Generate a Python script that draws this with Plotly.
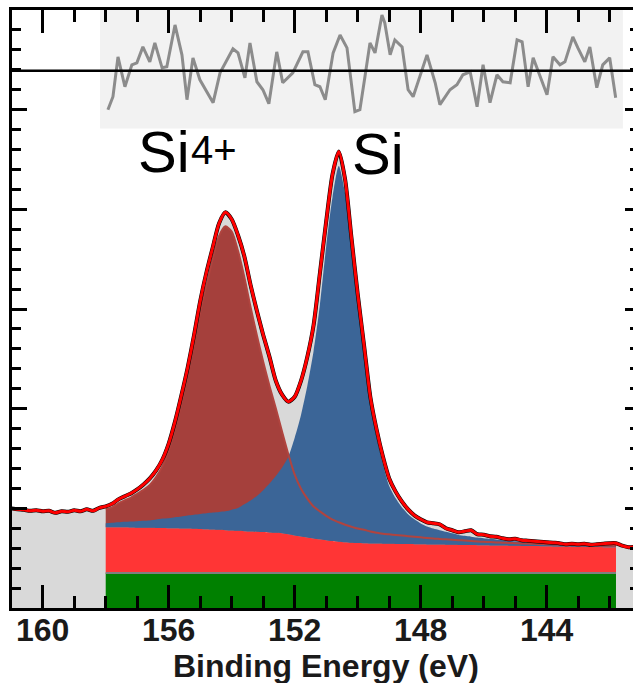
import numpy as np
import plotly.graph_objects as go

# ---------------- data ----------------
# full measured spectrum, 161.0 -> 141.2 eV, step 0.2 eV
energy_full = np.round(np.linspace(161.0, 141.2, 100), 1)
intensity = [
    1.00, 0.99, 0.985, 0.975, 0.98, 0.97, 0.975, 0.955, 0.97, 0.965, 0.98, 0.97, 0.99, 0.975, 1.005,
    1.02, 1.045, 1.09, 1.12, 1.15, 1.19, 1.24, 1.30, 1.38, 1.49,
    1.65, 1.87, 2.13, 2.41, 2.73, 3.08, 3.37, 3.62, 3.86, 3.97,
    3.90, 3.74, 3.53, 3.24, 2.98, 2.74, 2.52, 2.28, 2.14, 2.07,
    2.12, 2.28, 2.52, 2.84, 3.36, 3.88, 4.35, 4.58, 4.30, 3.72,
    3.15, 2.64, 2.12, 1.79, 1.52, 1.30, 1.17, 1.07, 0.99, 0.93,
    0.89, 0.86, 0.85, 0.84, 0.80, 0.78, 0.76, 0.77, 0.78, 0.74,
    0.735, 0.72, 0.715, 0.70, 0.69, 0.695, 0.68, 0.675, 0.67, 0.665,
    0.66, 0.655, 0.65, 0.64, 0.645, 0.64, 0.645, 0.635, 0.64, 0.645,
    0.65, 0.65, 0.625, 0.61, 0.615,
]

# fitting window 158.0 -> 141.8 eV, step 0.2 eV
energy_fit = np.round(np.linspace(158.0, 141.8, 82), 1)
offset_level = 0.35   # green band top
background = [
    0.810, 0.810, 0.810, 0.810, 0.808, 0.806, 0.805, 0.804, 0.803, 0.802,
    0.800, 0.800, 0.798, 0.797, 0.795, 0.793, 0.790, 0.787, 0.784, 0.780,
    0.777, 0.774, 0.771, 0.768, 0.765, 0.762, 0.758, 0.754, 0.749, 0.740,
    0.728, 0.717, 0.707, 0.698, 0.689, 0.680, 0.672, 0.665, 0.660, 0.655,
    0.652, 0.650, 0.648, 0.646, 0.645, 0.644, 0.643, 0.642, 0.641, 0.640,
    0.639, 0.638, 0.637, 0.636, 0.635, 0.634, 0.633, 0.632, 0.631, 0.630,
    0.629, 0.628, 0.627, 0.626, 0.625, 0.624, 0.623, 0.622, 0.621, 0.620,
    0.619, 0.618, 0.617, 0.616, 0.615, 0.614, 0.613, 0.612, 0.611, 0.610,
    0.610, 0.610,
]
si4_component = [
    0.18, 0.20, 0.24, 0.27, 0.30, 0.34, 0.38, 0.43, 0.51, 0.62,
    0.78, 1.00, 1.25, 1.54, 1.86, 2.18, 2.45, 2.72, 2.95, 3.05,
    3.00, 2.81, 2.55, 2.25, 1.97, 1.71, 1.47, 1.25, 1.02, 0.80,
    0.61, 0.48, 0.39, 0.32, 0.28, 0.245, 0.215, 0.195, 0.175, 0.16,
    0.145, 0.135, 0.12, 0.11, 0.10, 0.095, 0.09, 0.085, 0.08, 0.075,
    0.07, 0.065, 0.06, 0.057, 0.054, 0.051, 0.048, 0.045, 0.042, 0.038,
    0.035, 0.033, 0.031, 0.029, 0.027, 0.026, 0.025, 0.024, 0.023, 0.022,
    0.021, 0.02, 0.019, 0.018, 0.018, 0.017, 0.017, 0.016, 0.016, 0.015,
    0.015, 0.015,
]
si_component = [
    0.04, 0.045, 0.05, 0.055, 0.06, 0.065, 0.07, 0.075, 0.085, 0.095,
    0.10, 0.11, 0.12, 0.13, 0.14, 0.15, 0.16, 0.17, 0.18, 0.19,
    0.21, 0.23, 0.27, 0.31, 0.36, 0.42, 0.49, 0.57, 0.66, 0.78,
    0.98, 1.22, 1.52, 1.88, 2.35, 2.95, 3.45, 3.77, 3.50, 2.95,
    2.42, 1.90, 1.43, 1.07, 0.80, 0.58, 0.46, 0.37, 0.30, 0.25,
    0.21, 0.18, 0.16, 0.145, 0.13, 0.115, 0.10, 0.092, 0.085, 0.078,
    0.072, 0.066, 0.06, 0.055, 0.05, 0.046, 0.042, 0.038, 0.034, 0.03,
    0.028, 0.026, 0.024, 0.022, 0.02, 0.019, 0.018, 0.017, 0.016, 0.015,
    0.015, 0.014,
]

# residual (top panel)
res_energy = [157.93, 157.77, 157.61, 157.39, 157.17, 157.01, 156.82, 156.60, 156.44, 156.21,
              156.06, 155.80, 155.58, 155.42, 155.23, 155.01, 154.59, 154.37, 153.96, 153.80,
              153.58, 153.42, 153.20, 153.01, 152.82, 152.57, 152.38, 152.06, 151.74, 151.58,
              151.36, 151.20, 151.03, 150.78, 150.56, 150.34, 150.09, 149.93, 149.77, 149.61,
              149.45, 149.23, 149.14, 148.97, 148.82, 148.59, 148.40, 148.24, 147.80, 147.54,
              147.39, 147.07, 146.85, 146.66, 146.43, 146.21, 146.02, 145.80, 145.58, 145.39,
              145.16, 144.94, 144.78, 144.59, 144.43, 144.21, 143.99, 143.80, 143.58, 143.42,
              143.17, 143.01, 142.79, 142.63, 142.41, 142.22, 142.00, 141.81]
res_value = [-0.39, -0.26, 0.14, -0.16, 0.06, 0.08, 0.24, 0.09, 0.28, 0.03,
             0.04, 0.46, 0.16, -0.29, 0.13, -0.09, -0.32, -0.02, 0.22, 0.18,
             -0.07, 0.28, -0.11, -0.19, -0.33, 0.19, -0.12, -0.02, 0.19, 0.19,
             -0.14, -0.16, -0.29, 0.18, 0.36, 0.23, -0.41, -0.39, -0.06, 0.28,
             0.18, 0.56, 0.48, 0.16, 0.31, 0.24, -0.19, -0.26, 0.16, -0.12,
             -0.34, -0.19, -0.14, -0.04, -0.01, -0.36, 0.06, -0.32, -0.04, -0.11,
             -0.12, 0.31, 0.29, -0.16, 0.13, -0.06, -0.24, 0.14, 0.06, 0.09,
             0.34, 0.23, 0.09, 0.24, -0.17, 0.06, 0.13, -0.27]
res_zero = 5.39
res_box = (158.18, 141.58, 4.81, 6.0)

x_range = [160.975, 141.26]
y_range = [0, 6]
x_major = [160, 156, 152, 148, 144]
x_title = "Binding Energy (eV)"

# ---------------- colours ----------------
C_GREY_FILL = "#d9d9d9"
C_GREEN = "#008000"
C_RED_BG = "#ff3535"
C_BROWN = "#a5403c"
C_BLUE = "#3b6597"
C_FIT = "#ff0000"
C_RES = "#8c8c8c"
FONT = "Arial, Liberation Sans, sans-serif"

bg = np.array(background)
si4_top = bg + np.array(si4_component)
si_top = bg + np.array(si_component)
green = [offset_level] * len(energy_fit)

fig = go.Figure()
sp = dict(shape="spline", smoothing=0.7)

# measured area (light grey)
fig.add_trace(go.Scatter(x=energy_full, y=intensity, mode="lines", line=dict(width=0, **sp),
                         fill="tozeroy", fillcolor=C_GREY_FILL, hoverinfo="skip"))
# green offset band
fig.add_trace(go.Scatter(x=energy_fit, y=green, mode="lines", line=dict(width=0),
                         fill="tozeroy", fillcolor=C_GREEN, hoverinfo="skip"))
fig.add_trace(go.Scatter(x=energy_fit, y=green, mode="lines",
                         line=dict(width=2, color="#7f7f7f"), hoverinfo="skip"))
# background band (red)
fig.add_trace(go.Scatter(x=energy_fit, y=bg, mode="lines", line=dict(width=0, **sp),
                         fill="tonexty", fillcolor=C_RED_BG, hoverinfo="skip"))
# Si4+ component
fig.add_trace(go.Scatter(x=energy_fit, y=bg, mode="lines", line=dict(width=0, **sp), hoverinfo="skip"))
fig.add_trace(go.Scatter(x=energy_fit, y=si4_top, mode="lines", line=dict(width=0, **sp),
                         fill="tonexty", fillcolor=C_BROWN, hoverinfo="skip"))
# Si component
fig.add_trace(go.Scatter(x=energy_fit, y=bg, mode="lines", line=dict(width=0, **sp), hoverinfo="skip"))
fig.add_trace(go.Scatter(x=energy_fit, y=si_top, mode="lines", line=dict(width=0, **sp),
                         fill="tonexty", fillcolor=C_BLUE, hoverinfo="skip"))
# Si4+ outline over the blue
fig.add_trace(go.Scatter(x=energy_fit, y=si4_top, mode="lines",
                         line=dict(width=2, color="#b0443f", **sp), hoverinfo="skip"))
# data + envelope
fig.add_trace(go.Scatter(x=energy_full, y=intensity, mode="lines",
                         line=dict(width=4, color="black", **sp), hoverinfo="skip"))
fig.add_trace(go.Scatter(x=energy_full, y=intensity, mode="lines",
                         line=dict(width=3, color=C_FIT, **sp), hoverinfo="skip"))
# residual
fig.add_trace(go.Scatter(x=res_energy, y=[res_zero + v for v in res_value], mode="lines",
                         line=dict(width=3, color=C_RES), hoverinfo="skip"))
# dummy trace for right-hand tick axis
fig.add_trace(go.Scatter(x=[150], y=[3], yaxis="y2", mode="markers",
                         marker=dict(opacity=0), hoverinfo="skip"))

fig.add_shape(type="rect", xref="x", yref="y", x0=res_box[0], x1=res_box[1],
              y0=res_box[2], y1=res_box[3], fillcolor="#f2f2f2", line=dict(width=0), layer="below")
fig.add_shape(type="line", xref="paper", yref="y", x0=0, x1=1, y0=res_zero, y1=res_zero,
              line=dict(color="black", width=2.5), layer="above")

# peak labels
fig.add_annotation(x=157.04, y=4.58, xref="x", yref="y", text="Si",
                   showarrow=False, xanchor="left", yanchor="middle",
                   font=dict(family=FONT, size=58, color="black"))
fig.add_annotation(x=155.36, y=4.60, xref="x", yref="y", text="4+",
                   showarrow=False, xanchor="left", yanchor="middle",
                   font=dict(family=FONT, size=40, color="black"))
fig.add_annotation(x=150.24, y=4.56, xref="x", yref="y", text="Si",
                   showarrow=False, xanchor="left", yanchor="middle",
                   font=dict(family=FONT, size=58, color="black"))
# x-axis title
fig.add_annotation(x=0.5056, y=-0.0975, xref="paper", yref="paper", text=x_title,
                   showarrow=False, xanchor="center", yanchor="middle",
                   font=dict(family=FONT, size=32, color="#1a1a1a", weight="bold"))

fig.update_layout(
    width=633, height=683,
    margin=dict(l=12, r=0, t=10, b=75),
    plot_bgcolor="white", paper_bgcolor="white",
    showlegend=False,
    xaxis=dict(
        range=x_range, tickvals=x_major, ticktext=[str(v) for v in x_major],
        ticks="inside", ticklen=23, tickwidth=2.5, tickcolor="black",
        minor=dict(dtick=1, tick0=160, ticks="inside", ticklen=12, tickwidth=2.5, tickcolor="black"),
        showline=True, linewidth=3, linecolor="black", mirror="ticks",
        showgrid=False, zeroline=False, automargin=False,
        ticklabelstandoff=-8,
        tickfont=dict(family=FONT, size=32, color="#1a1a1a", weight="bold"),
    ),
    yaxis=dict(
        range=y_range, dtick=1, tick0=0,
        ticks="inside", ticklen=15, tickwidth=2.5, tickcolor="black",
        minor=dict(dtick=0.2, ticks="inside", ticklen=9, tickwidth=2.5, tickcolor="black"),
        showline=True, linewidth=3, linecolor="black", automargin=False,
        showticklabels=False, showgrid=False, zeroline=False,
    ),
    yaxis2=dict(
        range=y_range, dtick=1, tick0=0, overlaying="y", side="right",
        ticks="inside", ticklen=8, tickwidth=2.5, tickcolor="black",
        minor=dict(dtick=0.2, ticks="inside", ticklen=3, tickwidth=2.5, tickcolor="black"),
        showline=False, showticklabels=False, showgrid=False, zeroline=False, automargin=False,
    ),
)

fig.write_html("out.html")
